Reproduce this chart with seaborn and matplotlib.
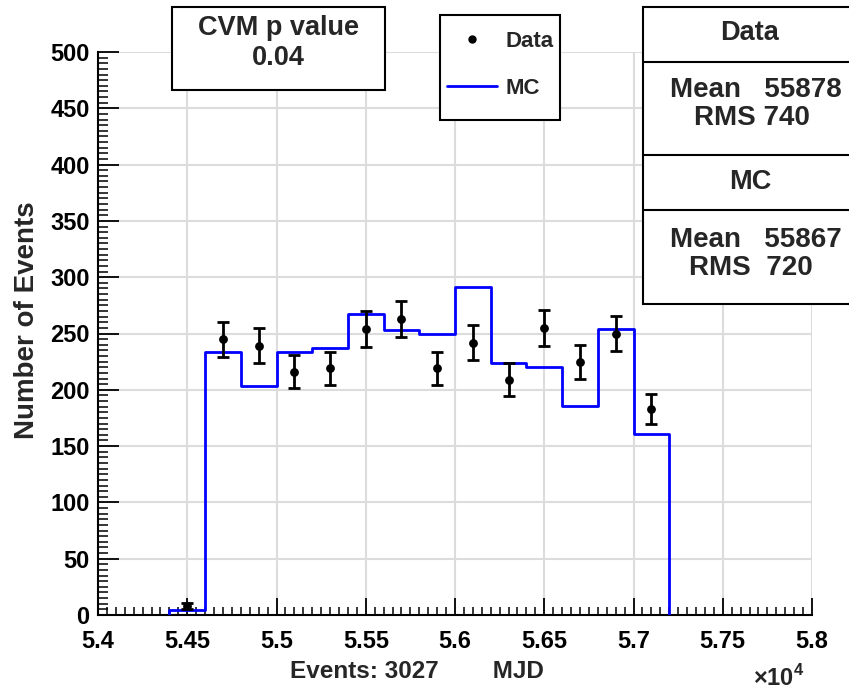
import numpy as np
import pandas as pd
import matplotlib
matplotlib.use("Agg")
import matplotlib.pyplot as plt
from matplotlib.ticker import MultipleLocator, FuncFormatter
from matplotlib.lines import Line2D
from matplotlib.patches import Rectangle
import seaborn as sns

# Histogram binning (MJD)
bin_edges = np.arange(54400, 57201, 200)
bin_centers = (bin_edges[:-1] + bin_edges[1:]) / 2

# Observed counts per bin and the Monte Carlo expectation
data_counts = [8, 245, 239, 216, 219, 254, 263, 219, 242, 209, 255, 225, 250, 183]
mc_counts = [4, 234, 203, 234, 237, 267, 253, 250, 291, 224, 220, 186, 254, 161]

# Summary statistics shown in the annotation boxes
cvm_p_value = 0.04
data_mean, data_rms = 55878, 740
mc_mean, mc_rms = 55867, 720

W, H = 849, 692
BOLD = "bold"

sns.set_style("white")
plt.rcParams["font.family"] = ["Liberation Sans", "DejaVu Sans"]
plt.rcParams["font.weight"] = "bold"
plt.rcParams["mathtext.fontset"] = "custom"
plt.rcParams["mathtext.rm"] = "Liberation Sans"
plt.rcParams["mathtext.bf"] = "Liberation Sans:bold"

fig = plt.figure(figsize=(W / 100, H / 100), dpi=100)
fig.patch.set_facecolor("white")


def px(x, y):
    """Pixel position (from top-left) to figure fraction."""
    return x / W, 1 - y / H


AX_L, AX_R, AX_T, AX_B = 98, 812, 52, 615
ax = fig.add_axes([AX_L / W, 1 - AX_B / H, (AX_R - AX_L) / W, (AX_B - AX_T) / H])

# MC histogram outline as a closed step curve
step_x = np.r_[bin_edges[0], bin_edges, bin_edges[-1]]
step_y = np.r_[0, mc_counts, mc_counts[-1], 0]
mc_df = pd.DataFrame({"MJD": step_x, "Events": step_y})
sns.lineplot(data=mc_df, x="MJD", y="Events", sort=False, estimator=None,
             drawstyle="steps-post", color="#0000ff", lw=2, ax=ax, zorder=3)

# Data points with Poisson errors
data_df = pd.DataFrame({"MJD": bin_centers, "Events": data_counts})
ax.errorbar(data_df["MJD"], data_df["Events"], yerr=np.sqrt(data_df["Events"]),
            fmt="none", ecolor="black", elinewidth=2, capsize=4, capthick=2, zorder=4)
sns.scatterplot(data=data_df, x="MJD", y="Events", color="black", s=40,
                edgecolor="black", linewidth=0, ax=ax, zorder=5)

ax.set_xlim(54000, 58000)
ax.set_ylim(0, 500)
ax.xaxis.set_major_locator(MultipleLocator(500))
ax.xaxis.set_minor_locator(MultipleLocator(50))
ax.yaxis.set_major_locator(MultipleLocator(50))
ax.yaxis.set_minor_locator(MultipleLocator(5))
ax.xaxis.set_major_formatter(FuncFormatter(lambda v, p: f"{v / 1e4:g}"))

ax.tick_params(axis="x", which="both", bottom=True, top=False, direction="in",
               colors="black")
ax.tick_params(axis="y", which="both", left=True, right=False, direction="in",
               colors="black")
ax.tick_params(axis="x", which="major", length=12, width=1.3, labelsize=17, pad=11)
ax.tick_params(axis="x", which="minor", length=6, width=1.1)
ax.tick_params(axis="y", which="major", length=15, width=1.3, labelsize=17, pad=6)
ax.tick_params(axis="y", which="minor", length=7, width=1.1)

for side in ("top", "right"):
    ax.spines[side].set_visible(False)
for side in ("left", "bottom"):
    ax.spines[side].set_color("black")
    ax.spines[side].set_linewidth(1.5)

ax.grid(True, which="major", color="#dcdcdc", lw=1.5)
ax.set_axisbelow(True)

ax.set_ylabel("Number of Events", fontsize=20, fontweight=BOLD, va="center")
ax.yaxis.set_label_coords(-(AX_L - 27) / (AX_R - AX_L), (AX_B - 320) / (AX_B - AX_T))
ax.set_xlabel(f"Events: {sum(data_counts)}        MJD", fontsize=17.5,
              fontweight=BOLD, va="center")
ax.xaxis.set_label_coords((417 - AX_L) / (AX_R - AX_L), -(672 - AX_B) / (AX_B - AX_T))
ax.text((779 - AX_L) / (AX_R - AX_L), -(678 - AX_B) / (AX_B - AX_T),
        r"$\times\mathbf{10}^{\mathbf{4}}$",
        transform=ax.transAxes, ha="center", va="center", fontsize=17)

fig.canvas.draw()
for lab in ax.get_xticklabels() + ax.get_yticklabels():
    lab.set_fontweight(BOLD)


def box(x0, y0, x1, y1):
    fx, fy = px(x0, y1)
    fig.add_artist(Rectangle((fx, fy), (x1 - x0) / W, (y1 - y0) / H,
                             transform=fig.transFigure, facecolor="white",
                             edgecolor="black", lw=1.5, zorder=10))


def hline(x0, x1, y):
    fig.add_artist(Line2D([x0 / W, x1 / W], [1 - y / H, 1 - y / H],
                          transform=fig.transFigure, color="black", lw=1.5, zorder=11))


def label(x, y, s, size=19.5):
    fx, fy = px(x, y)
    fig.text(fx, fy, s, ha="center", va="center", fontsize=size,
             fontweight=BOLD, zorder=12)


# CVM test result
box(172, 7, 385, 90)
label(278, 28, "CVM p value")
label(278, 58, f"{cvm_p_value:.2f}")

# Statistics table
box(643, 7, 880, 304)
hline(643, 849, 62)
hline(643, 849, 155)
hline(643, 849, 210)
label(749, 33, "Data")
label(756, 90, f"Mean   {data_mean}", size=20)
label(752, 118, f"RMS {data_rms}", size=20)
label(750, 182, "MC")
label(756, 240, f"Mean   {mc_mean}", size=20)
label(751, 268, f"RMS  {mc_rms}", size=20)

# Legend
box(440, 15, 560, 120)
handles = [Line2D([], [], ls="none", marker="o", color="black", markersize=5),
           Line2D([], [], color="#0000ff", lw=2)]
leg = fig.legend(handles, ["Data", "MC"], loc="upper left",
                 bbox_to_anchor=px(447, 31), bbox_transform=fig.transFigure,
                 frameon=False, prop={"weight": "bold", "size": 16},
                 handlelength=2.27, handletextpad=0.36, labelspacing=1.15,
                 borderpad=0, borderaxespad=0)
leg.set_zorder(12)

fig.savefig("out.png", dpi=100, facecolor="white")
